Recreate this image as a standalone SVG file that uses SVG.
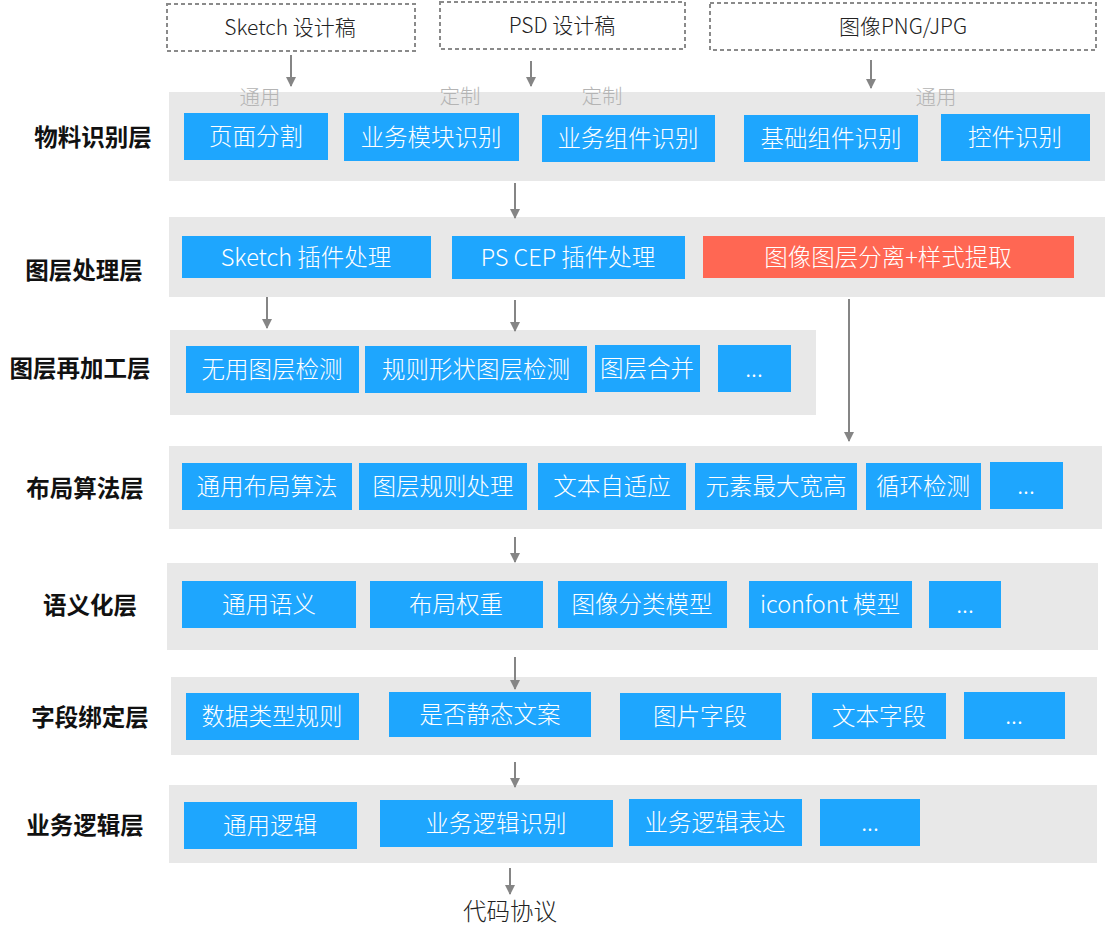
<svg xmlns="http://www.w3.org/2000/svg" width="1107" height="934" viewBox="0 0 1107 934">
<style>
.band{fill:#e8e8e8}
.btn{fill:#1ea6fe}
.red{fill:#ff6753}
.src{fill:none;stroke:#8a8a8a;stroke-width:2;stroke-dasharray:4 3}
.t{font-family:"Noto Sans CJK SC","Liberation Sans",sans-serif;font-size:23.5px;font-weight:300;fill:#fff;text-anchor:middle}
.s{font-family:"Noto Sans CJK SC","Liberation Sans",sans-serif;font-size:21px;font-weight:300;fill:#222;text-anchor:middle}
.lay{font-family:"Noto Sans CJK SC","Liberation Sans",sans-serif;font-size:23.5px;font-weight:bold;fill:#111;text-anchor:middle}
.g{font-family:"Noto Sans CJK SC","Liberation Sans",sans-serif;font-size:20.5px;font-weight:300;fill:#b4b4b4;text-anchor:middle}
.c{stroke:#858585;stroke-width:2;fill:none;marker-end:url(#ah)}
</style>
<defs>
<marker id="ah" viewBox="0 0 10 10" refX="9" refY="5" markerWidth="5" markerHeight="5.5" orient="auto" markerUnits="strokeWidth">
<path d="M0,0 L10,5 L0,10 z" fill="#858585"/>
</marker>
</defs>
<rect width="1107" height="934" fill="#fff"/>

<g id="src-sketch"><rect class="src" x="167" y="4" width="248" height="47"/><text class="s" x="290" y="35">Sketch 设计稿</text></g>
<g id="src-psd"><rect class="src" x="440" y="2" width="245" height="47"/><text class="s" x="562" y="33">PSD 设计稿</text></g>
<g id="src-img"><rect class="src" x="710" y="3" width="386" height="47"/><text class="s" x="903" y="34">图像PNG/JPG</text></g>

<g id="layer1">
<rect class="band" x="169" y="92" width="936" height="89"/>
<text class="lay" x="93" y="146">物料识别层</text>
<text class="g" x="260" y="105">通用</text>
<text class="g" x="460" y="104">定制</text>
<text class="g" x="602" y="104">定制</text>
<text class="g" x="936" y="105">通用</text>
</g>
<g id="n-page"><rect class="btn" x="184" y="113" width="144" height="47"/><text class="t" x="256" y="145">页面分割</text></g>
<g id="n-bizmod"><rect class="btn" x="344" y="113" width="175" height="48"/><text class="t" x="431" y="146">业务模块识别</text></g>
<g id="n-bizcomp"><rect class="btn" x="542" y="115" width="173" height="47"/><text class="t" x="628" y="147">业务组件识别</text></g>
<g id="n-basecomp"><rect class="btn" x="744" y="115" width="174" height="47"/><text class="t" x="831" y="147">基础组件识别</text></g>
<g id="n-ctrl"><rect class="btn" x="941" y="114" width="149" height="47"/><text class="t" x="1015" y="146">控件识别</text></g>

<g id="layer2">
<rect class="band" x="169" y="217" width="936" height="80"/>
<text class="lay" x="84" y="279">图层处理层</text>
</g>
<g id="n-sketchplug"><rect class="btn" x="182" y="236" width="249" height="42"/><text class="t" x="306" y="266">Sketch 插件处理</text></g>
<g id="n-psplug"><rect class="btn" x="452" y="236" width="233" height="43"/><text class="t" x="568" y="266">PS CEP 插件处理</text></g>
<g id="n-imgsep"><rect class="red" x="703" y="236" width="371" height="42"/><text class="t" x="888" y="266">图像图层分离+样式提取</text></g>

<g id="layer3">
<rect class="band" x="170" y="330" width="646" height="85"/>
<text class="lay" x="80" y="377">图层再加工层</text>
</g>
<g id="n-useless"><rect class="btn" x="186" y="346" width="173" height="47"/><text class="t" x="272" y="378">无用图层检测</text></g>
<g id="n-shape"><rect class="btn" x="365" y="346" width="222" height="47"/><text class="t" x="476" y="378">规则形状图层检测</text></g>
<g id="n-merge"><rect class="btn" x="595" y="345" width="105" height="47"/><text class="t" x="647" y="377">图层合并</text></g>
<g id="n-more3"><rect class="btn" x="718" y="345" width="73" height="47"/><text class="t" x="754" y="377">...</text></g>

<g id="layer4">
<rect class="band" x="169" y="446" width="933" height="83"/>
<text class="lay" x="85" y="497">布局算法层</text>
</g>
<g id="n-layout"><rect class="btn" x="182" y="463" width="170" height="47"/><text class="t" x="267" y="495">通用布局算法</text></g>
<g id="n-rule"><rect class="btn" x="359" y="463" width="168" height="47"/><text class="t" x="443" y="495">图层规则处理</text></g>
<g id="n-textfit"><rect class="btn" x="538" y="463" width="148" height="47"/><text class="t" x="612" y="495">文本自适应</text></g>
<g id="n-maxwh"><rect class="btn" x="695" y="463" width="162" height="47"/><text class="t" x="776" y="495">元素最大宽高</text></g>
<g id="n-loop"><rect class="btn" x="866" y="463" width="115" height="47"/><text class="t" x="923" y="495">循环检测</text></g>
<g id="n-more4"><rect class="btn" x="990" y="462" width="73" height="47"/><text class="t" x="1026" y="494">...</text></g>

<g id="layer5">
<rect class="band" x="167" y="563" width="931" height="87"/>
<text class="lay" x="90" y="614">语义化层</text>
</g>
<g id="n-sem"><rect class="btn" x="182" y="581" width="174" height="47"/><text class="t" x="269" y="613">通用语义</text></g>
<g id="n-weight"><rect class="btn" x="370" y="581" width="173" height="47"/><text class="t" x="456" y="613">布局权重</text></g>
<g id="n-imgcls"><rect class="btn" x="558" y="581" width="169" height="47"/><text class="t" x="642" y="613">图像分类模型</text></g>
<g id="n-iconfont"><rect class="btn" x="749" y="581" width="163" height="47"/><text class="t" x="830" y="613">iconfont 模型</text></g>
<g id="n-more5"><rect class="btn" x="929" y="581" width="72" height="47"/><text class="t" x="965" y="613">...</text></g>

<g id="layer6">
<rect class="band" x="171" y="677" width="926" height="78"/>
<text class="lay" x="90" y="726">字段绑定层</text>
</g>
<g id="n-dtype"><rect class="btn" x="186" y="693" width="173" height="47"/><text class="t" x="272" y="725">数据类型规则</text></g>
<g id="n-static"><rect class="btn" x="389" y="692" width="202" height="45"/><text class="t" x="490" y="723">是否静态文案</text></g>
<g id="n-imgfield"><rect class="btn" x="620" y="693" width="161" height="47"/><text class="t" x="700" y="725">图片字段</text></g>
<g id="n-textfield"><rect class="btn" x="812" y="693" width="134" height="46"/><text class="t" x="879" y="725">文本字段</text></g>
<g id="n-more6"><rect class="btn" x="964" y="692" width="101" height="47"/><text class="t" x="1014" y="724">...</text></g>

<g id="layer7">
<rect class="band" x="169" y="785" width="928" height="78"/>
<text class="lay" x="85" y="834">业务逻辑层</text>
</g>
<g id="n-logic"><rect class="btn" x="184" y="802" width="173" height="47"/><text class="t" x="270" y="834">通用逻辑</text></g>
<g id="n-bizlogic"><rect class="btn" x="380" y="800" width="233" height="47"/><text class="t" x="496" y="832">业务逻辑识别</text></g>
<g id="n-bizexpr"><rect class="btn" x="629" y="799" width="173" height="47"/><text class="t" x="715" y="831">业务逻辑表达</text></g>
<g id="n-more7"><rect class="btn" x="820" y="799" width="100" height="47"/><text class="t" x="870" y="831">...</text></g>

<g id="n-output"><text class="s" x="510" y="920" style="font-size:23.5px">代码协议</text></g>

<g id="connectors">
<line class="c" x1="291" y1="55" x2="291" y2="86"/>
<line class="c" x1="531" y1="61" x2="531" y2="86"/>
<line class="c" x1="871" y1="60" x2="871" y2="88"/>
<line class="c" x1="515" y1="183" x2="515" y2="218"/>
<line class="c" x1="267" y1="297" x2="267" y2="328"/>
<line class="c" x1="515" y1="300" x2="515" y2="331"/>
<line class="c" x1="849" y1="299" x2="849" y2="441"/>
<line class="c" x1="515" y1="537" x2="515" y2="562"/>
<line class="c" x1="515" y1="657" x2="515" y2="689"/>
<line class="c" x1="515" y1="762" x2="515" y2="787"/>
<line class="c" x1="510" y1="868" x2="510" y2="894"/>
</g>
</svg>
